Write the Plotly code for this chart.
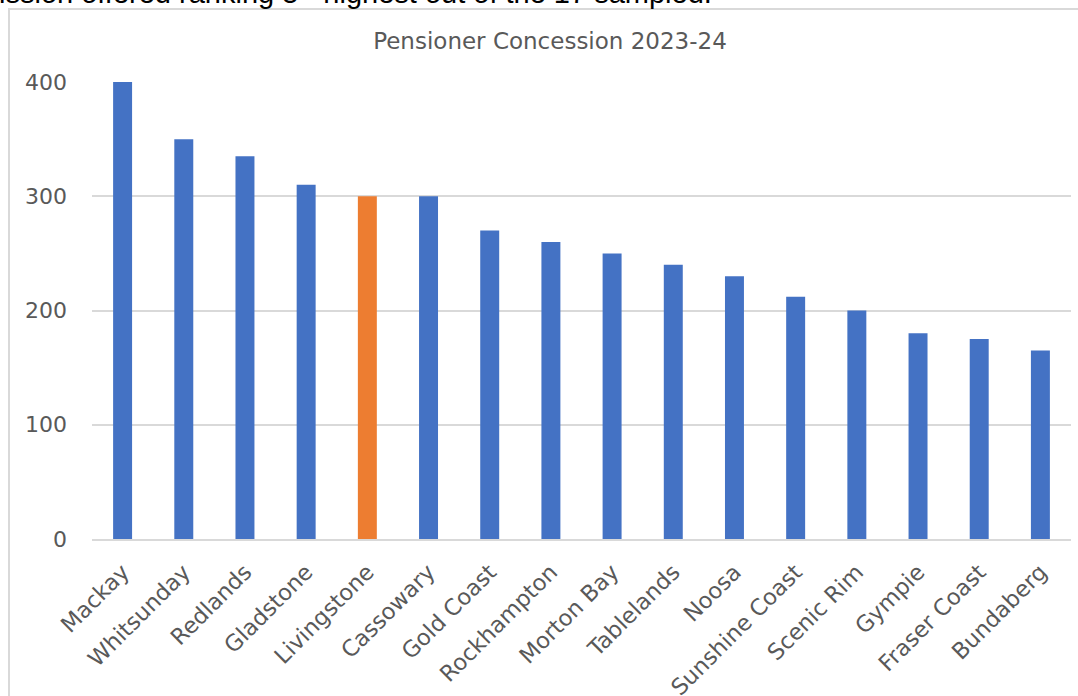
import plotly.graph_objects as go

# Pensioner concession amounts by council, 2023-24
councils = ["Mackay", "Whitsunday", "Redlands", "Gladstone", "Livingstone", "Cassowary",
            "Gold Coast", "Rockhampton", "Morton Bay", "Tablelands", "Noosa",
            "Sunshine Coast", "Scenic Rim", "Gympie", "Fraser Coast", "Bundaberg"]
concession = [400, 350, 335, 310, 300, 300, 270, 260, 250, 240, 230, 212, 200, 180, 175, 165]
highlight = "Livingstone"

y_ticks = [0, 100, 200, 300, 400]

BLUE = "#4472C4"
ORANGE = "#ED7D31"
GREY_TEXT = "#595959"
GRID = "#D9D9D9"

colors = [ORANGE if c == highlight else BLUE for c in councils]

fig = go.Figure(go.Bar(
    x=councils,
    y=concession,
    marker=dict(color=colors, line=dict(width=0)),
    width=0.31,
))

W, H = 1078, 696
ml, mr, mt, mb = 92, 7, 82, 157
pw, ph = W - ml - mr, H - mt - mb


def px_x(px):
    return (px - ml) / pw


def px_y(py):
    return (H - mb - py) / ph


fig.update_layout(
    width=W, height=H,
    margin=dict(l=ml, r=mr, t=mt, b=mb, pad=0, autoexpand=False),
    paper_bgcolor="white",
    plot_bgcolor="white",
    showlegend=False,
    title=dict(
        text="Pensioner Concession 2023-24",
        x=px_x(550), xref="paper", xanchor="center",
        y=1 - 41 / H, yref="container", yanchor="middle",
        font=dict(family="DejaVu Sans", size=23, color=GREY_TEXT),
        automargin=False,
    ),
    xaxis=dict(
        type="category",
        range=[-0.5, len(councils) - 0.5],
        tickangle=-45,
        tickfont=dict(family="DejaVu Sans", size=22.5, color=GREY_TEXT),
        showgrid=False,
        showline=True, linecolor=GRID, linewidth=2,
        ticks="", ticklabelstandoff=9,
        automargin=False,
        fixedrange=True,
    ),
    yaxis=dict(
        range=[0, 400],
        tickvals=y_ticks,
        tickfont=dict(family="DejaVu Sans", size=22, color=GREY_TEXT),
        showgrid=True, gridcolor=GRID, gridwidth=1.5,
        zeroline=False, showline=False,
        ticks="", ticklabelstandoff=24,
        automargin=False,
        fixedrange=True,
    ),
    shapes=[
        # chart frame
        dict(type="rect", xref="paper", yref="paper",
             x0=px_x(9), x1=px_x(1082), y0=px_y(702), y1=px_y(9),
             line=dict(color=GRID, width=2), fillcolor="rgba(0,0,0,0)",
             layer="below"),
    ],
    annotations=[
        dict(text="ission offered ranking 5<sup>th</sup> highest out of the 17 sampled.",
             xref="paper", yref="paper", x=px_x(-3), y=px_y(11),
             xanchor="left", yanchor="bottom", showarrow=False,
             font=dict(family="Liberation Sans", size=29, color="black")),
    ],
)

fig.write_html("out.html")
